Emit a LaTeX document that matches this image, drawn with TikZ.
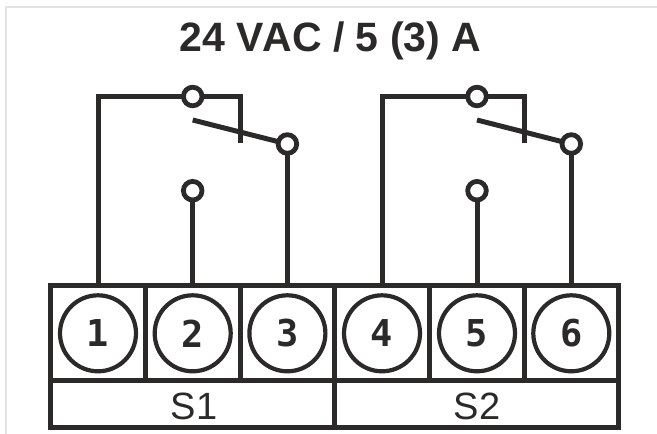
\documentclass[tikz,border=0pt]{standalone}
\usepackage{fontspec}
\setmainfont{Liberation Sans}
\newfontfamily\numfont{DejaVu Sans Mono}
\definecolor{ink}{HTML}{2B2A29}
\definecolor{edge}{HTML}{E2E2E2}
\tikzset{
  x=1pt,y=-1pt,
  wire/.style={draw=ink,line width=5pt},
  frame/.style={draw=ink,line width=5pt,fill=white},
  term/.style={circle,draw=ink,line width=4.2pt,fill=white,inner sep=0pt,minimum size=76pt,text=ink,font=\numfont\bfseries\fontsize{37}{37}\selectfont},
  pin/.style={circle,draw=ink,line width=4.8pt,fill=white,inner sep=0pt,minimum size=18.6pt},
  lab/.style={text=ink,font=\fontsize{38}{38}\selectfont,inner sep=0pt}
}
\begin{document}
\begin{tikzpicture}
\useasboundingbox (0,0) rectangle (657,434);
\fill[white] (0,0) rectangle (657,434);
\fill[edge] (5,6) rectangle (657,8);
\fill[edge] (5,6) rectangle (7,434);
\node[font=\bfseries\fontsize{41}{41}\selectfont,text=ink,inner sep=0pt,anchor=base] (title) at (330.5,51) {24 V\kern-1.5pt AC / 5 (3) A};
% terminal block
\draw[frame] (50.7,285.7) rectangle (618.3,427.3);
\draw[wire] (50.7,380.3) -- (618.3,380.3);
\foreach \x in {145.3,240,334.3,429,524} \draw[wire] (\x,285.7) -- (\x,380.3);
\draw[wire] (334.3,380.3) -- (334.3,427.3);
\coordinate (t1) at (98,285.7);
\coordinate (t2) at (192.7,285.7);
\coordinate (t3) at (287.4,285.7);
\coordinate (t4) at (382,285.7);
\coordinate (t5) at (477,285.7);
\coordinate (t6) at (571.3,285.7);
\node[term] (n1) at (98,333.3) {1};
\node[term] (n2) at (192.7,333.3) {2};
\node[term] (n3) at (287.4,333.3) {3};
\node[term] (n4) at (382,333.3) {4};
\node[term] (n5) at (477,333.3) {5};
\node[term] (n6) at (571.3,333.3) {6};
\node[lab,anchor=base] (s1) at (194,419) {S1};
\node[lab,anchor=base] (s2) at (477,419) {S2};
% switch 1
\coordinate (a1) at (98,96.5);
\coordinate (b1) at (240,96.5);
\coordinate (c1) at (240,143);
\coordinate (d1) at (192.7,120);
\draw[wire,line cap=rect] (a1) -- (b1);
\draw[wire] (t1) -- (a1) -- (b1) -- (c1);
\draw[wire] (d1) -- (287.4,144);
\draw[wire] (t2) -- (192.7,190.7);
\draw[wire] (t3) -- (287.4,144);
\node[pin] (p1) at (192.7,96.5) {};
\node[pin] (p2) at (192.7,190.7) {};
\node[pin] (p3) at (287.4,144) {};
% switch 2
\coordinate (a2) at (382,96.5);
\coordinate (b2) at (524,96.5);
\coordinate (c2) at (524,143);
\coordinate (d2) at (477,120);
\draw[wire,line cap=rect] (a2) -- (b2);
\draw[wire] (t4) -- (a2) -- (b2) -- (c2);
\draw[wire] (d2) -- (571.3,144);
\draw[wire] (t5) -- (477,190.7);
\draw[wire] (t6) -- (571.3,144);
\node[pin] (p4) at (477,96.5) {};
\node[pin] (p5) at (477,190.7) {};
\node[pin] (p6) at (571.3,144) {};
\end{tikzpicture}
\end{document}
